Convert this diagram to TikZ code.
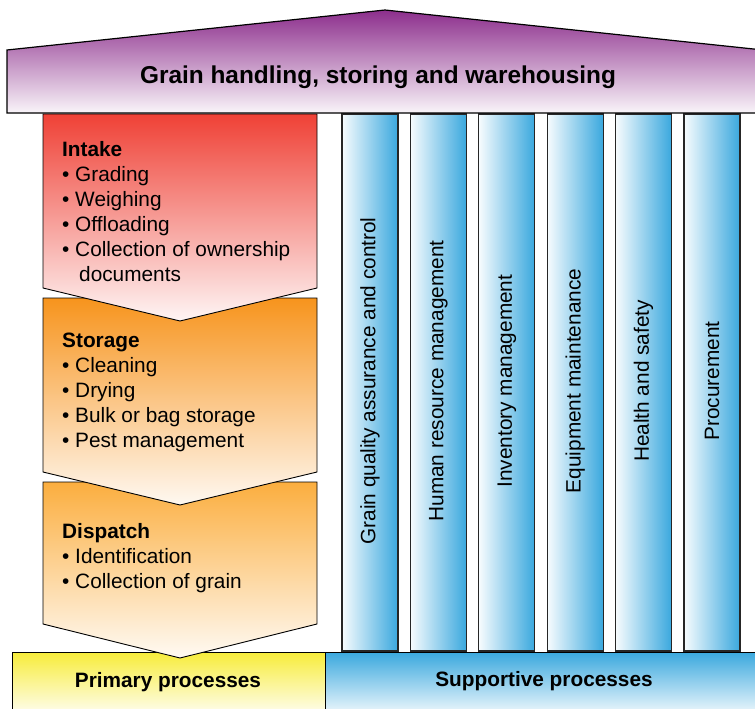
\documentclass[tikz,border=0pt]{standalone}
\usepackage{fontspec}
\setmainfont{Liberation Sans}
\usepackage{tikz}

\definecolor{roofpurple}{HTML}{8C2E8C}
\definecolor{intakered}{HTML}{EF4136}
\definecolor{storageorange}{HTML}{F7941D}
\definecolor{dispatchorange}{HTML}{FBAE3F}
\definecolor{primaryyellow}{HTML}{F7EC3A}
\definecolor{pillarblue}{HTML}{3AA8DE}

\begin{document}
\begin{tikzpicture}[x=1pt, y=-1pt, line join=miter,
		box/.style={draw=black, line width=0.9pt},
		pillar/.style={draw=black!85, line width=1.2pt, left color=pillarblue!4, right color=pillarblue},
		body/.style={anchor=base west, align=left, inner sep=0pt, font=\fontsize{20.8}{25}\selectfont},
		caption/.style={anchor=base, inner sep=0pt, font=\fontsize{20.8}{25}\selectfont\bfseries},
		upright/.style={rotate=90, inner sep=0pt, font=\fontsize{20.8}{25}\selectfont}]
				\useasboundingbox (0,0) rectangle (755,709);

				\draw[box, top color=primaryyellow, bottom color=primaryyellow!8] (12,652) rectangle (325,714);
				\node[caption] (Primary) at (168,687) {Primary processes};
				\draw[box, top color=pillarblue, bottom color=pillarblue!8] (325,652) rectangle (762,714);
				\node[caption] (Supportive) at (544,686) {Supportive processes};

				\foreach \i/\txt in {0/Grain quality assurance and control, 1/Human resource management,
						2/Inventory management, 3/Equipment maintenance, 4/Health and safety, 5/Procurement} {
					\draw[pillar] ({342+68.4*\i},114) rectangle ++(56,537);
					\node[upright] (Pillar\i) at ({370+68.4*\i},381) {\txt};
				}

				\draw[box, top color=dispatchorange, bottom color=dispatchorange!6]
					(43,482) -- (317,482) -- (317,624) -- (180,658) -- (43,624) -- cycle;
				\node[body] (Dispatch) at (62,588) {\textbf{Dispatch}\\\textbullet\ Identification\\\textbullet\ Collection of grain};

				\draw[box, top color=storageorange, bottom color=storageorange!6]
					(43,298) -- (317,298) -- (317,472) -- (180,505) -- (43,472) -- cycle;
				\node[body] (Storage) at (62,447) {\textbf{Storage}\\\textbullet\ Cleaning\\\textbullet\ Drying\\\textbullet\ Bulk or bag storage\\\textbullet\ Pest management};

				\draw[box, top color=intakered, bottom color=intakered!5]
					(43,114) -- (317,114) -- (317,288) -- (180,321) -- (43,288) -- cycle;
				\node[body] (Intake) at (62,281) {\textbf{Intake}\\\textbullet\ Grading\\\textbullet\ Weighing\\\textbullet\ Offloading\\\textbullet\ Collection of ownership\\\hspace*{17pt}documents};

				\draw[line width=1.2pt, top color=roofpurple, bottom color=roofpurple!5]
					(7,113) -- (7,50) -- (385,10) -- (763,50) -- (763,113) -- cycle;
				\node[anchor=base, inner sep=0pt, font=\fontsize{24.4}{29}\selectfont\bfseries] (Roof) at (378,83) {Grain handling, storing and warehousing};
\end{tikzpicture}
\end{document}
